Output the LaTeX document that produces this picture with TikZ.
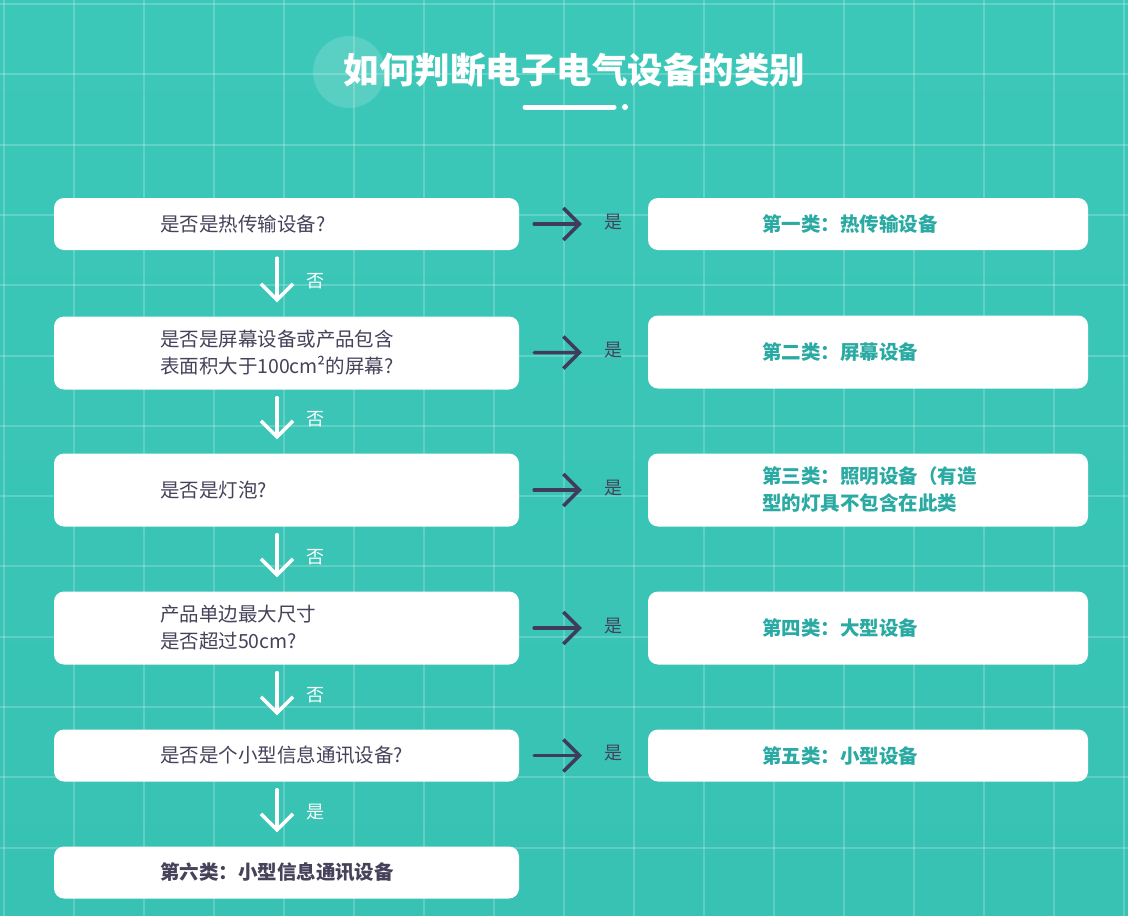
\documentclass[tikz,border=0pt]{standalone}
\usepackage{fontspec}
\setmainfont{Noto Sans CJK SC}
\usepackage{xcolor}
\usetikzlibrary{positioning}
\usetikzlibrary{arrows.meta}
\definecolor{bgteal}{HTML}{3CC8B9}
\definecolor{bgtealdark}{HTML}{37C2B3}
\definecolor{inkdark}{HTML}{45425A}
\definecolor{arrowdark}{HTML}{3F3B5A}
\definecolor{tealtext}{HTML}{2AAAA3}

\begin{document}
\begin{tikzpicture}[x=1pt,y=-1pt,
  gridline/.style={white, opacity=0.2, line width=2pt},
  qbox/.style={fill=white, rounded corners=10pt, minimum width=465pt, text width=253pt,
    inner xsep=106pt, inner ysep=0pt, align=left, text=inkdark,
    font=\fontsize{19.5}{27}\selectfont},
  cbox/.style={fill=white, rounded corners=10pt, minimum width=440pt, text width=212pt,
    inner xsep=114pt, inner ysep=0pt, align=left, text=tealtext,
    font=\fontsize{19.5}{27}\selectfont\bfseries},
  harrow/.style={arrowdark, line width=3.5pt, line cap=round,
    -{Straight Barb[length=16pt, width=32pt, line width=3.5pt]}},
  varrow/.style={white, line width=3.5pt, line cap=round,
    -{Straight Barb[length=16pt, width=32pt, line width=3.5pt]}},
  ylabel/.style={text=inkdark, font=\fontsize{18}{18}\selectfont},
  nlabel/.style={text=white, font=\fontsize{18}{18}\selectfont}]
\useasboundingbox (0,0) rectangle (1128,916);
\shade[top color=bgteal, bottom color=bgtealdark] (0,0) rectangle (1128,916);
%\draw grid
\foreach \i in {0,...,16}
  \draw[gridline] (3.5+70*\i,0) -- (3.5+70*\i,916);
\foreach \i in {0,...,13}
  \draw[gridline] (0,4+70.3*\i) -- (1128,4+70.3*\i);
% title
\fill[white, opacity=0.15] (349,72) circle (36);
\node[text=white, font=\fontsize{35.5}{35.5}\selectfont\bfseries] (title) at (574.5,70) {如何判断电子电气设备的类别};
\draw[white, line width=5pt, line cap=round] (525,107) -- (614,107);
\fill[white] (625,107) circle (3);
% questions
\node[qbox, minimum height=52pt] (q1) at (286.5,224) {是否是热传输设备?};
\node[qbox, minimum height=73pt] (q2) at (286.5,353) {是否是屏幕设备或产品包含\\表面积大于100cm²的屏幕?};
\node[qbox, minimum height=73pt] (q3) at (286.5,490) {是否是灯泡?};
\node[qbox, minimum height=73pt] (q4) at (286.5,628) {产品单边最大尺寸\\是否超过50cm?};
\node[qbox, minimum height=52pt] (q5) at (286.5,755.5) {是否是个小型信息通讯设备?};
\node[qbox, minimum height=52pt, font=\fontsize{19.5}{27}\selectfont\bfseries] (c6) at (286.5,872.5) {第六类：小型信息通讯设备};
% classes
\node[cbox, minimum height=52pt] (c1) at (868,224) {第一类：热传输设备};
\node[cbox, minimum height=73pt] (c2) at (868,352) {第二类：屏幕设备};
\node[cbox, minimum height=73pt] (c3) at (868,490) {第三类：照明设备（有造\\型的灯具不包含在此类};
\node[cbox, minimum height=73pt] (c4) at (868,628) {第四类：大型设备};
\node[cbox, minimum height=52pt] (c5) at (868,755.5) {第五类：小型设备};
% yes arrows
\foreach \a/\b in {q1/c1,q2/c2,q3/c3,q4/c4,q5/c5}
  \draw[harrow, shorten <=15pt, shorten >=66pt] (\a) -- node[ylabel, pos=0.73, yshift=2pt] (y\a) {是} (\b);
% no arrows
\foreach \a/\b/\t in {q1/q2/否,q2/q3/否,q3/q4/否,q4/q5/否,q5/c6/是}
  \draw[varrow, shorten <=8pt, shorten >=14pt] ([xshift=-9.5pt]\a.south) -- node[nlabel, right=24pt, yshift=2pt] (n\a) {\t} ([xshift=-9.5pt]\b.north);
\end{tikzpicture}
\end{document}
